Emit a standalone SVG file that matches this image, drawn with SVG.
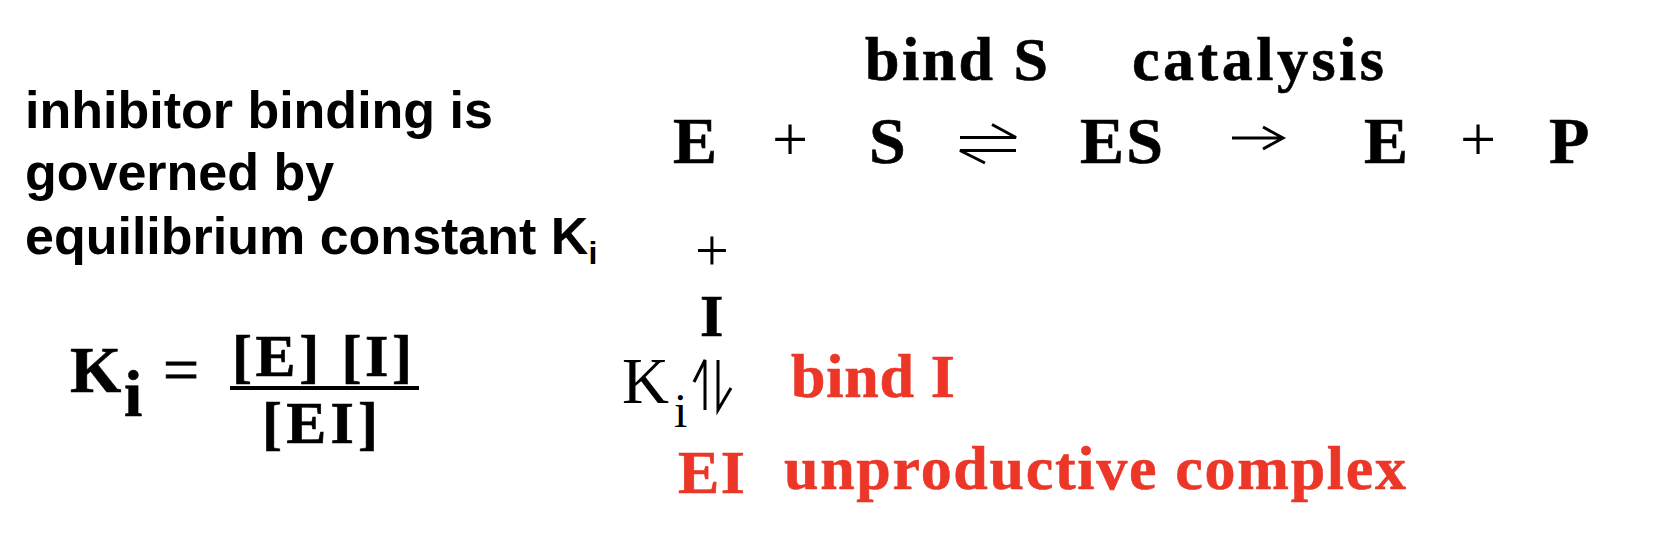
<svg xmlns="http://www.w3.org/2000/svg" width="1676" height="558" viewBox="0 0 1676 558">
<style>
.sans{font-family:"Liberation Sans",Arial,sans-serif;font-weight:bold;fill:#000}
.serb{font-family:"Liberation Serif","Times New Roman",serif;font-weight:bold;fill:#000;stroke:#000;stroke-width:0.6}
.serr{font-family:"Liberation Serif","Times New Roman",serif;font-weight:normal;fill:#000}
.red{fill:#EB3628;stroke:#EB3628}
.arr{fill:none;stroke:#000;stroke-width:3;stroke-linecap:butt}
</style>
<rect width="1676" height="558" fill="#fff"/>
<g id="caption">
<text class="sans" x="25" y="128" font-size="52">inhibitor binding is</text>
<text class="sans" x="25" y="190" font-size="52">governed by</text>
<text class="sans" x="25" y="254" font-size="52">equilibrium constant K<tspan font-size="32" dy="10">i</tspan></text>
</g>
<g id="formula">
<text class="serb" x="70" y="392" font-size="66">K</text>
<text class="serb" x="124" y="416" font-size="66">i</text>
<text class="serr" x="163" y="391" font-size="64" stroke="#000" stroke-width="0.8">=</text>
<text class="serb" x="232" y="376" font-size="60" textLength="180">[E] [I]</text>
<rect x="230" y="386" width="189" height="4" fill="#000"/>
<text class="serb" x="262" y="443" font-size="60" textLength="116">[EI]</text>
</g>
<g id="labels">
<text class="serb" x="865" y="80" font-size="62" textLength="183">bind S</text>
<text class="serb" x="1132" y="80" font-size="62" textLength="252">catalysis</text>
</g>
<g id="node-E1"><text class="serb" x="673" y="163" font-size="66">E</text></g>
<g id="plus1"><text class="serr" x="772" y="161" font-size="64">+</text></g>
<g id="node-S"><text class="serb" x="869" y="163" font-size="66">S</text></g>
<g id="node-ES"><text class="serb" x="1080" y="163" font-size="66" textLength="83">ES</text></g>
<g id="node-E2"><text class="serb" x="1364" y="163" font-size="66">E</text></g>
<g id="plus2"><text class="serr" x="1460" y="161" font-size="64">+</text></g>
<g id="node-P"><text class="serb" x="1549" y="163" font-size="66">P</text></g>
<g id="plus3"><text class="serr" x="695" y="270" font-size="60">+</text></g>
<g id="node-I"><text class="serb" x="700" y="336" font-size="60">I</text></g>
<g id="ki-label"><text class="serr" x="622" y="403" font-size="65">K</text><text class="serr" x="674" y="427" font-size="48">i</text></g>
<g id="bind-I"><text class="serb red" x="791" y="397" font-size="62" textLength="164">bind I</text></g>
<g id="node-EI"><text class="serb red" x="678" y="493" font-size="62" textLength="67">EI</text></g>
<g id="unproductive"><text class="serb red" x="784" y="489" font-size="62" textLength="622">unproductive complex</text></g>
<g id="connectors">
<path class="arr" d="M960 137.5H1016L992 124.5"/>
<path class="arr" d="M1016 150.5H960L985 163"/>
<path class="arr" d="M1232 138H1283M1263 127L1283 138L1263 149"/>
<path class="arr" d="M705 410V360L694 382"/>
<path class="arr" d="M718 360V410L731 388"/>
</g>
</svg>
